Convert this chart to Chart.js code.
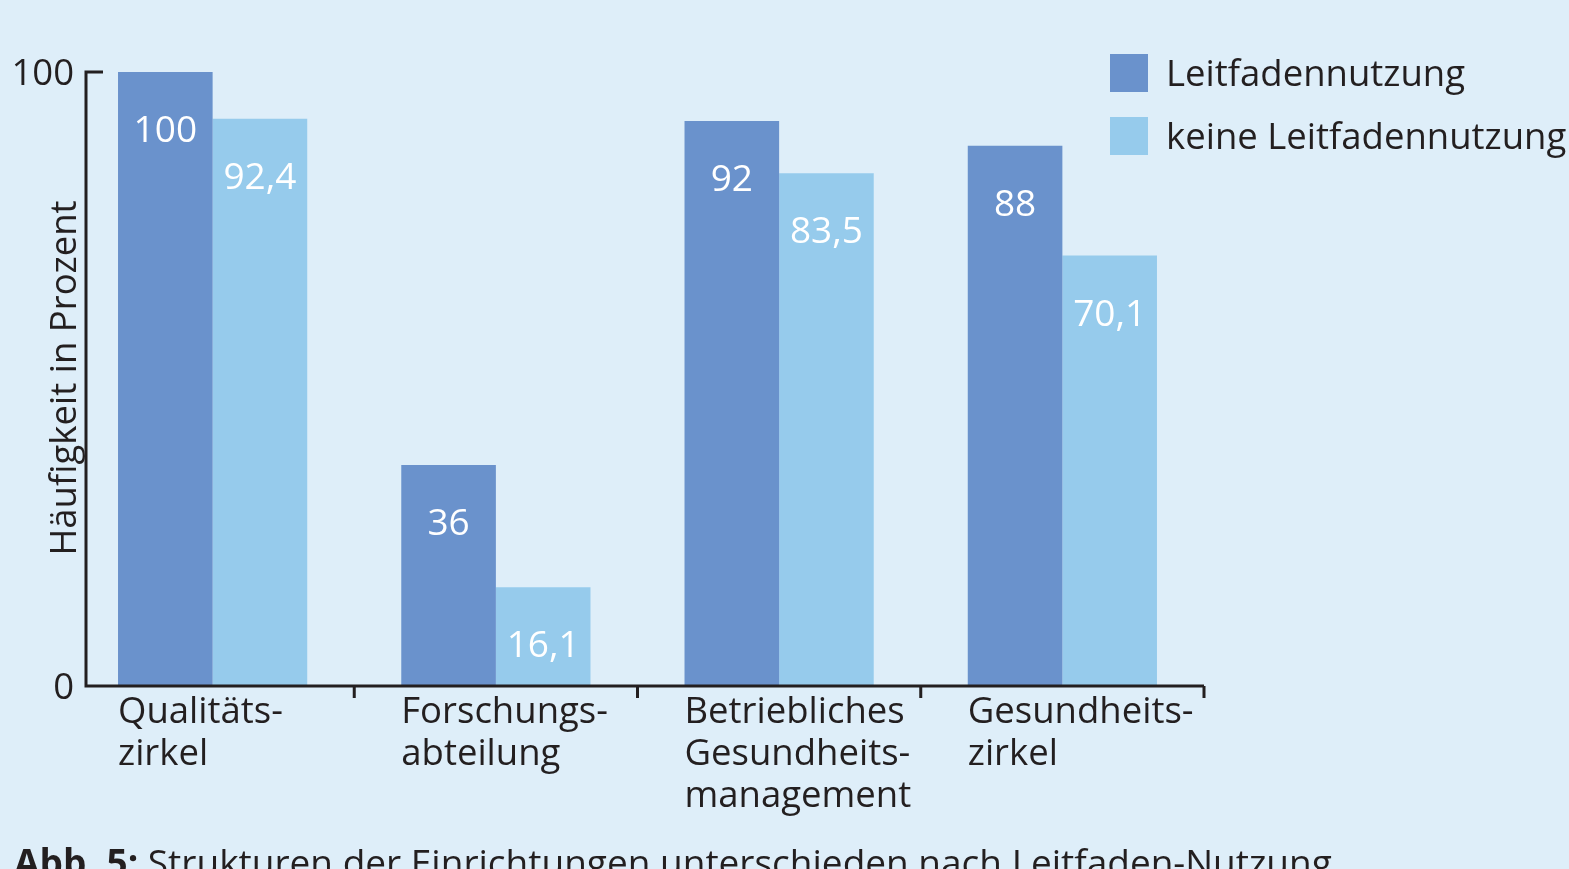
<!DOCTYPE html>
<html>
<head>
<meta charset="utf-8">
<script src="https://cdn.jsdelivr.net/npm/chart.js@4/dist/chart.umd.min.js"></script>
<style>
  html, body { margin: 0; padding: 0; background: #deeef9; }
  #wrap { width: 1569px; height: 869px; position: relative; }
</style>
</head>
<body>
<div id="wrap"><canvas id="chart" width="1569" height="869"></canvas></div>
<script>
// Data
const categories = [
  ['Qualitäts-', 'zirkel'],
  ['Forschungs-', 'abteilung'],
  ['Betriebliches', 'Gesundheits-', 'management'],
  ['Gesundheits-', 'zirkel'],
];
const seriesNames = ['Leitfadennutzung', 'keine Leitfadennutzung'];
const withGuide = [100, 36, 92, 88];
const withoutGuide = [92.4, 16.1, 83.5, 70.1];
const yTicks = [0, 100];
const yTitle = 'Häufigkeit in Prozent';
const caption = ['Abb. 5:', ' Strukturen der Einrichtungen unterschieden nach Leitfaden-Nutzung'];

const colors = ['#6a92cc', '#96cbec'];
const textColor = '#231f20';
const FONT = "'Open Sans', 'Noto Sans', sans-serif";

const fmt = (v) => String(v).replace('.', ',');

// Draw axes, labels, legend and caption
const decorations = {
  id: 'decorations',
  afterDatasetsDraw(chart) {
    const ctx = chart.ctx;
    const x = chart.scales.x;
    const y = chart.scales.y;
    const y0 = y.getPixelForValue(0);
    const y100 = y.getPixelForValue(100);
    const axisX = 86;

    ctx.save();
    ctx.textBaseline = 'alphabetic';

    // value labels inside the bars
    ctx.fillStyle = '#ffffff';
    ctx.font = `37px ${FONT}`;
    ctx.textAlign = 'center';
    chart.data.datasets.forEach((ds, di) => {
      chart.getDatasetMeta(di).data.forEach((bar, i) => {
        ctx.fillText(fmt(ds.data[i]), bar.x, bar.y + 70);
      });
    });

    // axis lines
    ctx.strokeStyle = textColor;
    ctx.lineWidth = 3;
    ctx.beginPath();
    ctx.moveTo(axisX + 17, y100);
    ctx.lineTo(axisX, y100);
    ctx.lineTo(axisX, y0);
    ctx.lineTo(chart.chartArea.right, y0);
    ctx.stroke();

    // category boundary ticks
    const step = x.getPixelForValue(1) - x.getPixelForValue(0);
    ctx.beginPath();
    categories.forEach((c, i) => {
      const bx = x.getPixelForValue(i) + step / 2;
      ctx.moveTo(bx, y0);
      ctx.lineTo(bx, y0 + 12);
    });
    ctx.stroke();

    // y tick labels
    ctx.fillStyle = textColor;
    ctx.font = `36.5px ${FONT}`;
    ctx.textAlign = 'right';
    yTicks.forEach((t) => {
      ctx.fillText(String(t), 74, y.getPixelForValue(t) + 13);
    });

    // y title
    ctx.save();
    ctx.font = `36.5px ${FONT}`;
    ctx.textAlign = 'center';
    ctx.translate(76, (y0 + y100) / 2 - 1);
    ctx.rotate(-Math.PI / 2);
    ctx.fillText(yTitle, 0, 0);
    ctx.restore();

    // category labels
    ctx.font = `36.5px ${FONT}`;
    ctx.textAlign = 'left';
    const barW = chart.getDatasetMeta(0).data[0].width;
    categories.forEach((lines, i) => {
      const lx = x.getPixelForValue(i) - barW;
      lines.forEach((line, li) => {
        ctx.fillText(line, lx, 723 + li * 42);
      });
    });

    // legend
    seriesNames.forEach((name, i) => {
      const top = 54 + i * 63;
      ctx.fillStyle = colors[i];
      ctx.fillRect(1110, top, 38, 38);
      ctx.fillStyle = textColor;
      ctx.fillText(name, 1166, top + 32);
    });

    // caption (cut off at the bottom)
    ctx.font = `bold 37px ${FONT}`;
    ctx.fillText(caption[0], 14, 876);
    const w = ctx.measureText(caption[0]).width;
    ctx.font = `37px ${FONT}`;
    ctx.fillText(caption[1], 14 + w, 876);

    ctx.restore();
  },
};

new Chart(document.getElementById('chart').getContext('2d'), {
  type: 'bar',
  data: {
    labels: categories,
    datasets: seriesNames.map((name, i) => ({
      label: name,
      data: i === 0 ? withGuide : withoutGuide,
      backgroundColor: colors[i],
      borderWidth: 0,
      barPercentage: 1,
      categoryPercentage: 0.668,
    })),
  },
  options: {
    responsive: false,
    animation: false,
    layout: { padding: { left: 71, right: 365, top: 72, bottom: 183 } },
    plugins: { legend: { display: false }, tooltip: { enabled: false } },
    scales: {
      x: { display: false },
      y: { display: false, min: 0, max: 100 },
    },
  },
  plugins: [decorations],
});
</script>
</body>
</html>
